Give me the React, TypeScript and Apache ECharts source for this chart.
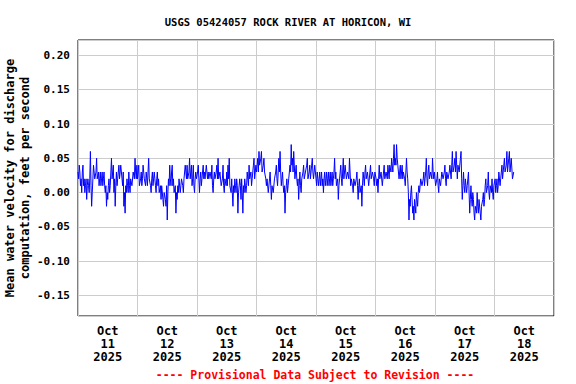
import React, { useEffect, useRef } from 'react';
import * as echarts from 'echarts';

const TITLE = 'USGS 05424057 ROCK RIVER AT HORICON, WI';
const Y_NAME = 'Mean water velocity for discharge\ncomputation, feet per second';
const FOOTNOTE = '---- Provisional Data Subject to Revision ----';
const DAY_LABELS = ['Oct\n11\n2025', 'Oct\n12\n2025', 'Oct\n13\n2025', 'Oct\n14\n2025', 'Oct\n15\n2025', 'Oct\n16\n2025', 'Oct\n17\n2025', 'Oct\n18\n2025'];
const STEP_HOURS = 0.25; // 15-minute readings from midnight of each day

const oct11 = [0.03,0.02, 0.04,0.03, 0.01,0.02, 0.00,0.03, 0.04,0.01, 0.02,0.00, 0.01,0.02, -0.01,0.01, 0.02,0.01, 0.00,0.02, 0.06,0.01, -0.02,0.00, 0.02,0.04, 0.03,0.02, 0.02,0.03, 0.05,0.02, 0.02,0.03, 0.01,0.02, 0.03,0.01, 0.02,0.03, 0.01,0.02, 0.03,0.01, 0.00,0.01, -0.02,0.00, -0.01,0.01, 0.02,0.00, 0.01,0.03, 0.05,0.02, 0.02,0.04, 0.00,0.02, -0.02,0.01, 0.03,0.01, 0.02,0.03, 0.04,0.02, 0.03,0.04, 0.04,0.02, 0.01,0.03, -0.02,0.00, -0.03,0.01, 0.00,0.02, 0.01,0.00, 0.03,0.01, 0.00,0.02, 0.02,0.01, 0.01,0.03, 0.03,0.02, 0.05,0.03, 0.02,0.04];
const oct12 = [0.02,0.03, 0.04,0.01, 0.01,0.02, 0.03,0.01, 0.02,0.04, 0.04,0.02, 0.02,0.01, 0.03,0.02, 0.01,0.03, 0.05,0.02, 0.02,0.01, 0.00,0.02, 0.03,0.01, 0.01,0.03, 0.02,0.01, 0.00,0.02, 0.03,0.01, 0.02,0.00, 0.00,0.01, -0.01,0.01, 0.01,-0.01, -0.02,0.00, 0.00,-0.01, -0.02,0.01, -0.04,0.00, 0.02,0.01, 0.04,0.02, 0.01,0.03, 0.04,0.01, 0.02,0.00, 0.00,0.01, -0.03,0.00, -0.01,0.01, 0.00,0.02, 0.02,0.00, 0.01,0.02, 0.02,0.01, 0.00,0.02, 0.02,0.04, 0.03,0.02, 0.04,0.02, 0.02,0.03, 0.05,0.02, 0.03,0.04, 0.01,0.02, 0.04,0.01, 0.00,0.02, 0.03,0.02];
const oct13 = [0.02,0.03, 0.04,0.02, 0.00,0.02, 0.03,0.01, 0.02,0.03, 0.04,0.02, 0.03,0.02, 0.02,0.04, 0.04,0.02, 0.03,0.02, 0.02,0.03, 0.03,0.02, 0.04,0.01, 0.00,0.02, 0.03,0.02, 0.02,0.03, 0.04,0.02, 0.05,0.02, 0.02,0.03, 0.03,0.01, 0.01,0.02, 0.04,0.01, 0.00,0.02, 0.02,0.01, 0.03,0.01, 0.04,0.02, 0.05,0.01, 0.01,0.00, 0.02,0.00, -0.02,0.01, 0.00,0.02, 0.01,0.00, 0.02,0.01, -0.03,0.00, 0.00,0.02, 0.01,-0.01, 0.02,0.00, -0.03,0.01, 0.00,0.02, 0.02,0.00, 0.01,0.03, 0.03,0.01, 0.04,0.02, 0.02,0.03, 0.01,0.02, 0.03,0.04, 0.05,0.02, 0.02,0.04];
const oct14 = [0.03,0.04, 0.05,0.03, 0.06,0.04, 0.04,0.05, 0.06,0.03, 0.03,0.04, 0.05,0.03, 0.03,0.02, 0.01,0.02, 0.02,0.00, 0.00,0.02, 0.03,0.01, -0.01,0.01, 0.01,0.00, 0.00,0.02, 0.02,0.03, 0.04,0.02, 0.01,0.03, 0.05,0.03, 0.06,0.03, 0.01,0.02, 0.03,0.01, 0.00,0.01, -0.03,0.00, 0.01,0.02, 0.00,0.01, 0.02,0.03, 0.04,0.03, 0.07,0.04, 0.05,0.03, 0.06,0.04, 0.02,0.03, 0.04,0.02, 0.01,0.02, -0.01,0.01, 0.03,0.01, 0.00,0.02, 0.02,0.03, 0.04,0.02, 0.02,0.03, 0.03,0.04, 0.05,0.02, 0.02,0.03, 0.04,0.02, 0.03,0.04, 0.05,0.03, 0.02,0.03, 0.04,0.03];
const oct15 = [0.02,0.01, 0.03,0.02, 0.01,0.02, 0.03,0.01, 0.02,0.03, 0.01,0.02, 0.00,0.02, 0.03,0.01, 0.02,0.03, 0.01,0.02, 0.03,0.01, 0.02,0.03, 0.01,0.02, 0.03,0.01, 0.02,0.03, 0.05,0.02, 0.03,0.01, 0.01,0.02, -0.01,0.01, 0.02,0.03, 0.04,0.02, 0.01,0.03, 0.05,0.02, 0.03,0.04, 0.04,0.02, 0.02,0.03, 0.03,0.02, 0.05,0.03, 0.01,0.02, 0.02,0.01, 0.00,0.02, 0.02,0.01, 0.01,0.02, 0.03,0.01, -0.01,0.01, 0.02,0.00, 0.00,0.01, -0.02,0.01, 0.03,0.02, 0.01,0.03, 0.04,0.02, 0.02,0.03, 0.03,0.01, 0.01,0.03, 0.04,0.02, 0.02,0.03, 0.03,0.02, 0.01,0.03];
const oct16 = [0.03,0.02, 0.01,0.02, 0.00,0.02, 0.04,0.02, 0.02,0.03, 0.03,0.01, 0.01,0.03, 0.04,0.02, 0.02,0.03, 0.03,0.02, 0.04,0.03, 0.02,0.04, 0.04,0.03, 0.05,0.04, 0.03,0.05, 0.07,0.04, 0.05,0.04, 0.07,0.05, 0.04,0.03, 0.02,0.03, 0.04,0.02, 0.03,0.04, 0.02,0.03, 0.03,0.02, 0.01,0.03, 0.05,0.03, 0.02,0.00, -0.04,-0.01, -0.02,0.00, 0.01,-0.01, -0.03,-0.02, -0.04,-0.01, -0.01,-0.03, 0.00,-0.01, -0.02,0.00, 0.01,0.00, 0.00,0.02, 0.02,0.01, 0.01,0.02, 0.03,0.01, 0.02,0.03, 0.05,0.02, 0.01,0.03, 0.04,0.02, 0.02,0.03, 0.03,0.02, 0.05,0.03, 0.02,0.03];
const oct17 = [0.02,0.01, 0.01,0.02, 0.03,0.01, 0.00,0.02, 0.02,0.01, 0.01,0.03, 0.03,0.02, 0.02,0.03, 0.04,0.02, 0.01,0.03, 0.03,0.02, 0.02,0.03, 0.04,0.03, 0.02,0.04, 0.06,0.03, 0.03,0.04, 0.05,0.03, 0.06,0.04, 0.02,0.04, 0.04,0.03, 0.03,0.05, 0.06,0.02, -0.01,0.01, 0.03,0.01, 0.00,0.02, 0.02,0.00, 0.01,0.02, 0.03,0.00, -0.03,-0.01, 0.01,-0.01, -0.02,0.00, -0.01,-0.03, -0.04,-0.02, -0.02,-0.03, 0.00,-0.02, -0.03,-0.01, -0.01,-0.03, -0.04,-0.02, -0.02,-0.01, 0.00,-0.02, -0.01,0.01, 0.02,0.00, 0.00,0.01, 0.03,0.00, -0.01,0.01, 0.01,0.00, 0.02,0.00, -0.01,0.01];
const oct18 = [0.01,0.02, 0.00,0.01, 0.02,0.00, 0.01,0.03, 0.03,0.01, 0.02,0.03, 0.04,0.02, 0.02,0.04, 0.05,0.03, 0.03,0.04, 0.06,0.03, 0.04,0.05, 0.06,0.03, 0.03,0.05, 0.05,0.02, 0.02,0.03];
const DAYS = [oct11, oct12, oct13, oct14, oct15, oct16, oct17, oct18];

const MONO = '"DejaVu Sans Mono", "Liberation Mono", monospace';

export default function App() {
  const ref = useRef<HTMLDivElement>(null);
  useEffect(() => {
    document.body.style.margin = '0';
    const chart = echarts.init(ref.current as HTMLDivElement, null, { renderer: 'svg' });
    const data: number[][] = [];
    DAYS.forEach((arr, d) => arr.forEach((v, i) => data.push([d * 24 + i * STEP_HOURS, v])));
    const totalHours = DAY_LABELS.length * 24;
    chart.setOption({
      animation: false,
      backgroundColor: '#fff',
      title: {
        text: TITLE,
        left: 'center',
        top: 11,
        textStyle: { fontFamily: MONO, fontWeight: 'bold', fontSize: 10.5, color: '#000' },
      },
      grid: {
        left: 78,
        right: 22,
        top: 40,
        bottom: 68,
        containLabel: false,
        outerBoundsMode: 'none',
        show: true,
        borderColor: '#000',
        borderWidth: 1,
      },
      xAxis: [
        {
          type: 'value',
          min: 0,
          max: totalHours,
          interval: 12,
          position: 'bottom',
          axisLine: { show: false },
          axisTick: { show: false },
          splitLine: { show: false },
          axisLabel: {
            margin: 8,
            fontFamily: MONO,
            fontWeight: 'bold',
            fontSize: 12,
            lineHeight: 13,
            color: '#000',
            formatter: (v: number) => (v % 24 === 12 ? DAY_LABELS[(v - 12) / 24] : ''),
          },
        },
        {
          type: 'value',
          min: 0,
          max: totalHours,
          interval: 24,
          position: 'top',
          axisLine: { show: false },
          axisTick: { show: false },
          axisLabel: { show: false },
          splitLine: { show: true, lineStyle: { color: '#cccccc', width: 1 } },
        },
      ],
      yAxis: {
        type: 'value',
        min: -0.18,
        max: 0.2225,
        splitNumber: 8,
        name: Y_NAME,
        nameLocation: 'middle',
        nameRotate: 90,
        nameGap: 46,
        nameMoveOverlap: false,
        nameTextStyle: { fontFamily: MONO, fontWeight: 'bold', fontSize: 12, lineHeight: 15, color: '#000' },
        axisLine: { show: false },
        axisTick: { show: false },
        splitLine: { show: true, lineStyle: { color: '#cccccc', width: 1 } },
        axisLabel: {
          margin: 8,
          showMinLabel: false,
          showMaxLabel: false,
          fontFamily: MONO,
          fontWeight: 'bold',
          fontSize: 11,
          color: '#000',
          formatter: (v: number) => v.toFixed(2),
        },
      },
      graphic: [
        {
          type: 'text',
          x: 315,
          y: 375,
          style: {
            text: FOOTNOTE,
            fill: '#ff0000',
            font: 'bold 11.5px ' + MONO,
            textAlign: 'center',
            textVerticalAlign: 'middle',
          },
        },
      ],
      series: [
        {
          type: 'line',
          xAxisIndex: 0,
          data,
          showSymbol: false,
          symbol: 'none',
          lineStyle: { color: '#0000ff', width: 1 },
        },
      ],
    });
    return () => chart.dispose();
  }, []);
  return <div ref={ref} style={{ width: 576, height: 384 }} />;
}
